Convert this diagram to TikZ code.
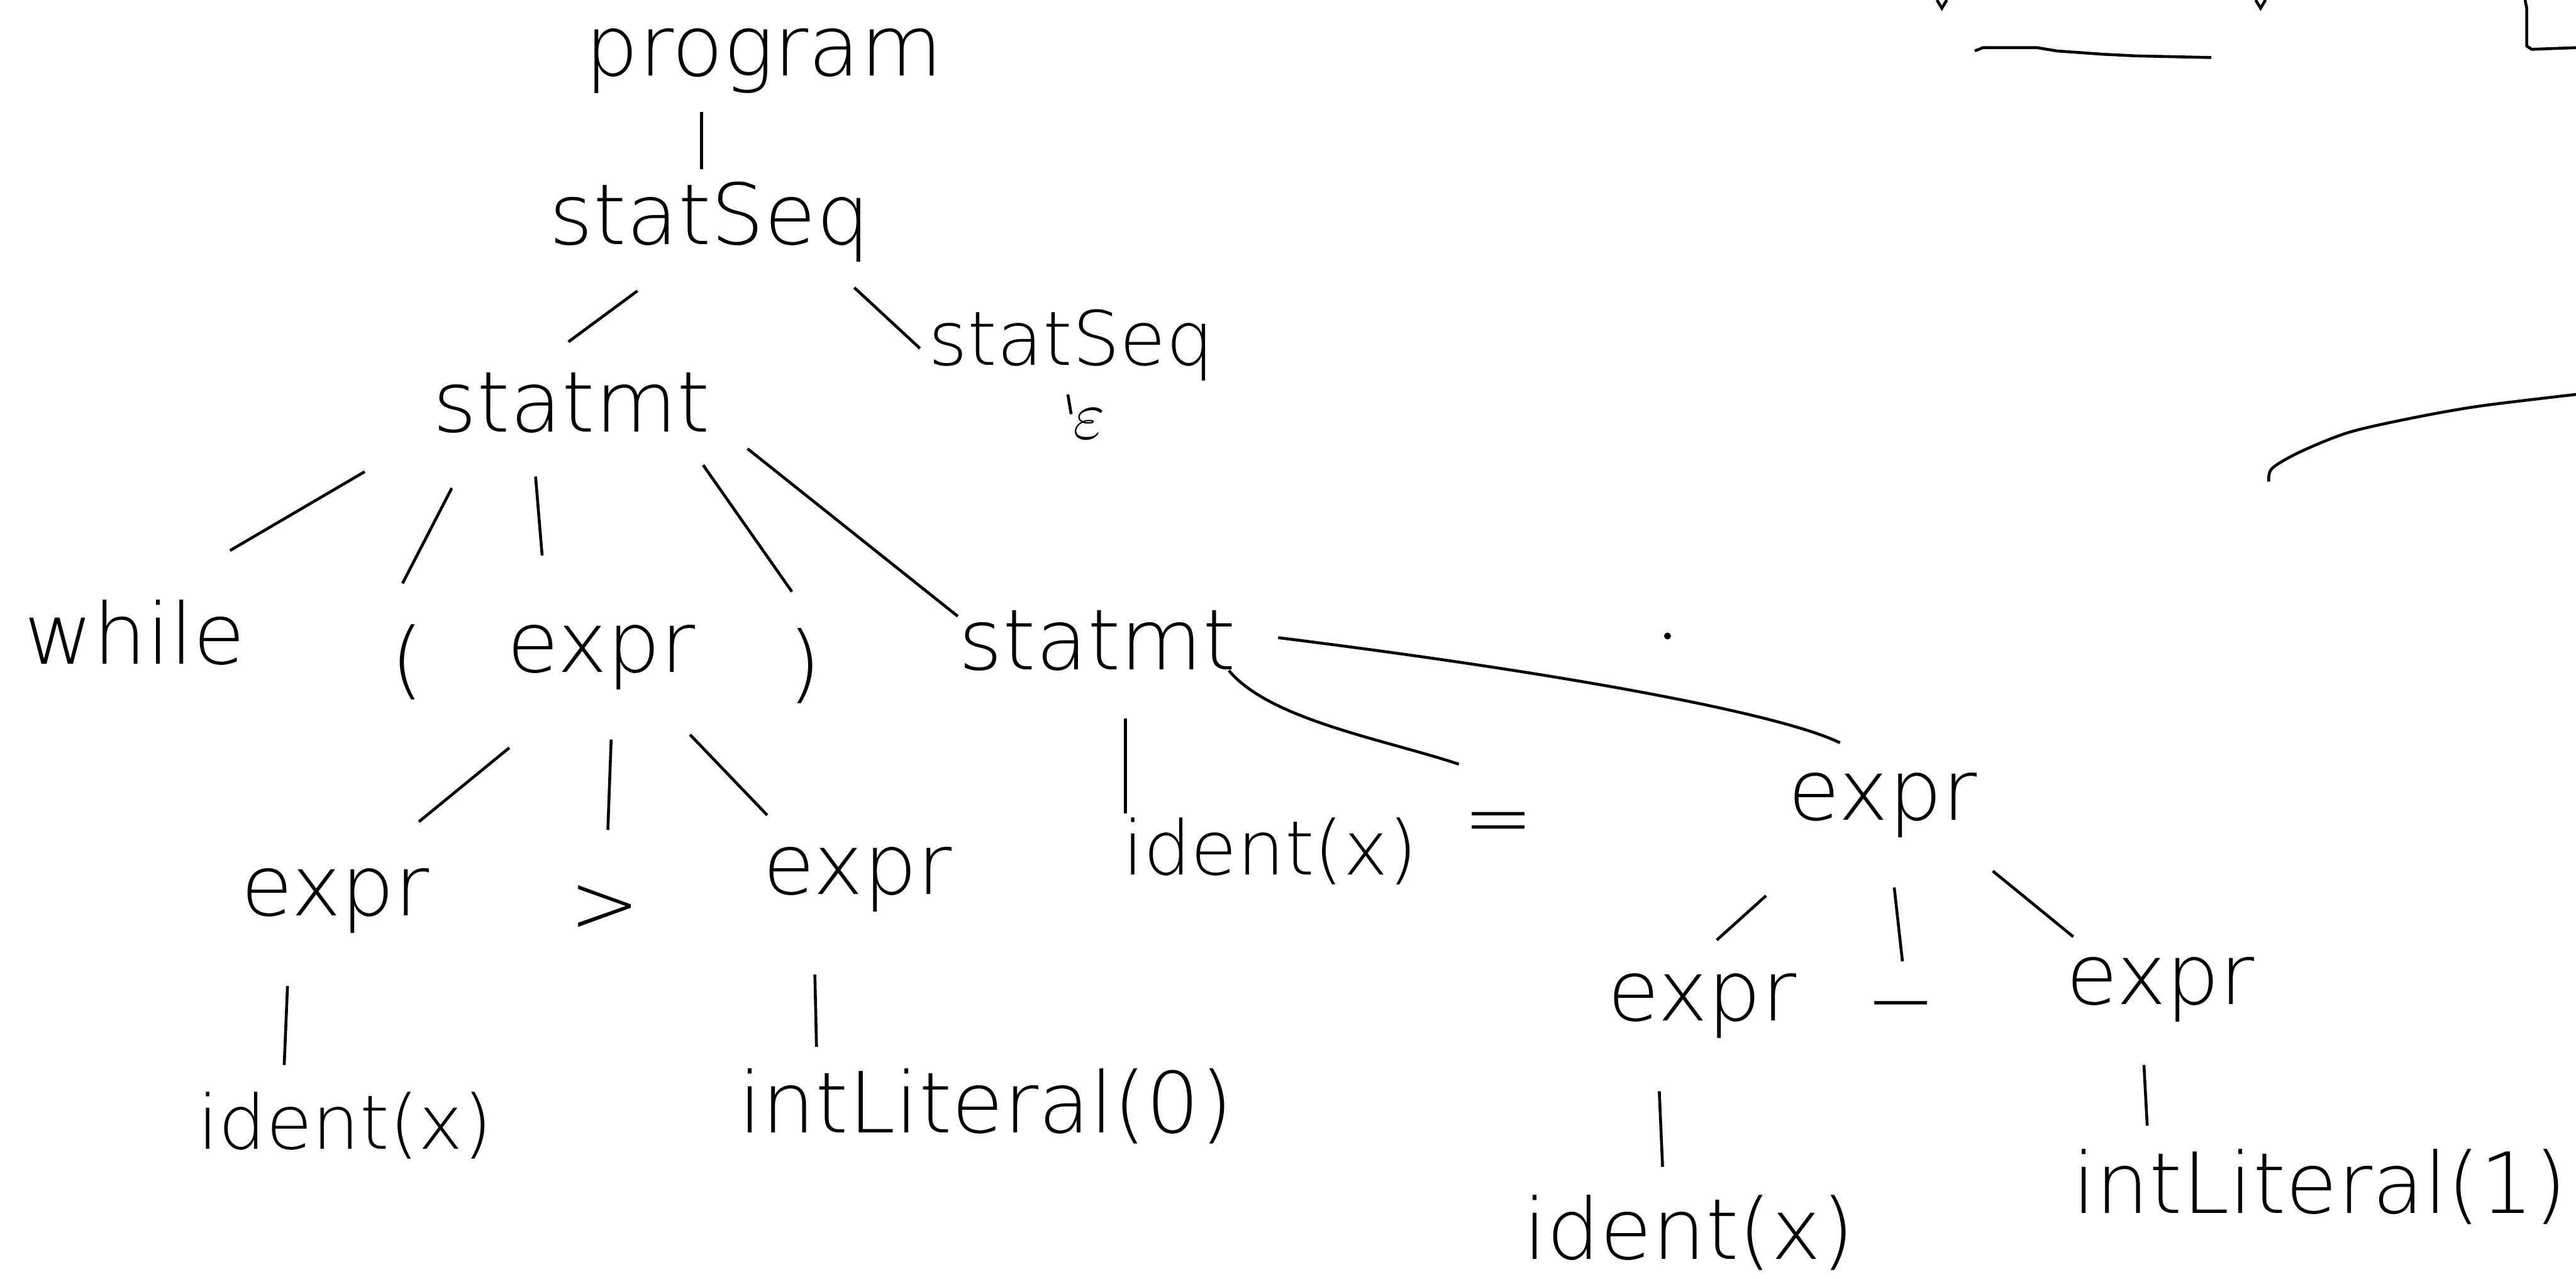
\documentclass[tikz,border=0pt]{standalone}
\usepackage{fontspec}
\setmainfont{DejaVu Sans ExtraLight}
\usepackage{tikz}
\usetikzlibrary{calc}

\begin{document}
\begin{tikzpicture}[x=0.1mm,y=-0.1mm,line width=0.5pt,
  every node/.style={inner sep=0pt,font=\fontsize{14.6}{16}\selectfont},
  small/.style={font=\fontsize{13}{14}\selectfont}]
  \useasboundingbox (0,0) rectangle (1568,778);

  % grammar symbols
  \node (prog)  at (465,37)   {program};
  \node (ss)    at (432,135)  {statSeq};
  \node (st)    at (348,245)  {statmt};
  \node (ss2)   at (652,210)  [small] {statSeq};
  \node (eps)   at (663,258)  [font=\fontsize{13}{14}\selectfont] {$\varepsilon$};
  \node (wh)    at (82,385)   {while};
  \node (lp)    at (248,403)  {(};
  \node (ex)    at (366,400)  {expr};
  \node (rp)    at (490,405)  {)};
  \node (st2)   at (668,390)  {statmt};
  \node (exa)   at (204,548)  {expr};
  \node (gt)    at (368,553)  {>};
  \node (exb)   at (522,535)  {expr};
  \node (ida)   at (210,685)  [small] {ident(x)};
  \node (lit0)  at (600,673)  {intLiteral(0)};
  \node (idb)   at (773,518)  [small] {ident(x)};
  \node (eq)    at (912,505)  {=};
  \node (exc)   at (1146,490) {expr};
  \node (exd)   at (1036,612) {expr};
  \node (mi)    at (1157,618) {−};
  \node (exe)   at (1315,602) {expr};
  \node (idc)   at (1028,750) {ident(x)};
  \node (lit1)  at (1412,722) {intLiteral(1)};

  % branches
  \draw ($(prog)+(-38,31)$) -- ($(ss)+(-5,-32)$);
  \draw ($(ss)+(-44,42)$)   -- ($(st)+(-2,-37)$);
  \draw ($(ss)+(88,40)$)    -- ($(ss2)+(-92,2)$);
  \draw ($(ss2)+(-2,30)$)   -- ($(eps)+(-11,-6)$);
  \draw ($(st)+(-126,42)$)  -- ($(wh)+(58,-50)$);
  \draw ($(st)+(-73,52)$)   -- ($(lp)+(-3,-48)$);
  \draw ($(st)+(-22,45)$)   -- ($(ex)+(-36,-62)$);
  \draw ($(st)+(80,38)$)    -- ($(rp)+(-8,-45)$);
  \draw ($(st)+(107,28)$)   -- ($(st2)+(-85,-15)$);
  \draw ($(ex)+(-56,55)$)   -- ($(exa)+(51,-48)$);
  \draw ($(ex)+(6,50)$)     -- ($(gt)+(2,-48)$);
  \draw ($(ex)+(54,47)$)    -- ($(exb)+(-55,-39)$);
  \draw ($(exa)+(-29,52)$)  -- ($(ida)+(-37,-37)$);
  \draw ($(exb)+(-26,58)$)  -- ($(lit0)+(-103,-36)$);
  \draw ($(st2)+(17,47)$)   -- ($(idb)+(-88,-23)$);
  \draw ($(st2)+(80,18)$) .. controls +(25,30) and +(-45,-15) .. ($(eq)+(-24,-40)$);
  \draw ($(st2)+(110,-2)$) .. controls +(200,25) and +(-30,-15) .. ($(exc)+(-26,-38)$);
  \draw ($(exc)+(-71,55)$)  -- ($(exd)+(9,-40)$);
  \draw ($(exc)+(7,50)$)    -- ($(mi)+(1,-33)$);
  \draw ($(exc)+(67,40)$)   -- ($(exe)+(-53,-32)$);
  \draw ($(exd)+(-26,52)$)  -- ($(idc)+(-16,-40)$);
  \draw ($(exe)+(-10,46)$)  -- ($(lit1)+(-105,-37)$);

  % loose strokes on the right
  \draw (1202,31) -- (1207,29) -- (1240,29) -- (1252,31) -- (1280,33) -- (1300,34) -- (1346,35);
  \draw (1537,0) -- (1538,5) -- (1538,28) -- (1541,30) -- (1568,29);
  \draw plot[smooth] coordinates {(1381,293) (1383,285) (1400,275) (1430,263) (1470,254) (1510,247) (1568,240)};
  \draw (1179,0) -- (1182,5) -- (1185,0);
  \draw (1373,0) -- (1376,5) -- (1379,0);
  \fill (1015,387) circle[radius=0.6pt];
\end{tikzpicture}
\end{document}
